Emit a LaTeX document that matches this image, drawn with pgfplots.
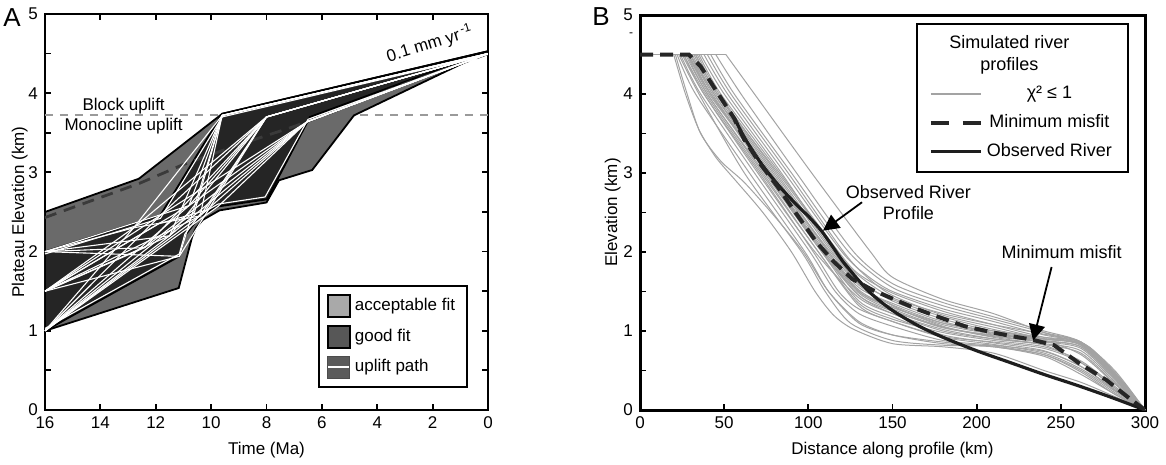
\documentclass[border=0pt]{standalone}
\usepackage{pgfplots}
\pgfplotsset{compat=1.18}
\usepackage{fontspec}
\setmainfont{Liberation Sans}
\usetikzlibrary{arrows.meta}
\definecolor{outerg}{HTML}{6A6A6A}
\definecolor{darkg}{HTML}{252525}
\definecolor{dashg}{HTML}{9A9A9A}
\definecolor{pathdash}{HTML}{3A3A3A}
\definecolor{legacc}{HTML}{A9A9A9}
\definecolor{leggood}{HTML}{575757}
\definecolor{legup}{HTML}{5B5B5B}
\definecolor{simg}{HTML}{A3A3A3}
\definecolor{obsk}{HTML}{1E1E1E}
\definecolor{mink}{HTML}{262626}
\pgfplotsset{
 every axis/.append style={
   scale only axis,
   tick align=inside,
   major tick length=3.2pt,
   every tick/.style={black, line width=0.9pt},
   tick label style={font=\fontsize{8.5}{10}\selectfont},
   label style={font=\fontsize{8.5}{10}\selectfont},
   /pgf/number format/assume math mode=true,
 },
 upath/.style={white, line width=0.55pt, forget plot},
 sim/.style={simg, line width=0.5pt, smooth, tension=0.45, forget plot},
}
\begin{document}
\begin{tikzpicture}[font=\fontsize{8.5}{10}\selectfont]
\useasboundingbox (-22.5pt,-27.5pt) rectangle (560.5pt,205pt);
% ---------------- Panel A ----------------
\begin{axis}[name=pa, at={(0pt,0pt)}, anchor=south west, width=221.5pt, height=198pt,
 x dir=reverse, xmin=0, xmax=16, ymin=0, ymax=5,
 xtick={0,2,...,16}, ytick={0,0.5,...,5}, yticklabels={0,,1,,2,,3,,4,,5},
 tick pos=both,
 axis line style={line width=1.3pt},
 xlabel={Time (Ma)}, ylabel={Plateau Elevation (km)},
 xlabel style={at={(axis description cs:0.5,-0.101)},anchor=center},
 ylabel style={at={(axis description cs:-0.057,0.5)},anchor=center},
 legend style={at={(axis description cs:0.955,0.056)}, anchor=south east, draw=black, line width=1pt,
   font=\fontsize{8.5}{10}\selectfont, row sep=3.5pt, inner xsep=4pt, inner ysep=4pt},
 legend cell align=left,
]
\addplot[dashg, line width=1pt, dash pattern=on 4pt off 3.5pt, forget plot] coordinates {(16,3.72) (0,3.72)};
\addplot[fill=outerg, draw=black, line width=0.9pt, forget plot] coordinates {
 (16,2.5) (12.61,2.92) (9.6,3.74) (0,4.53) (4.84,3.72) (6.35,3.03) (7.55,2.9) (8.0,2.62)
 (9.7,2.52) (10.3,2.4) (10.55,2.3) (10.69,2.18) (11.17,1.54) (16,1.0)} -- cycle;
\addplot[fill=darkg, draw=black, line width=0.9pt, forget plot] coordinates {
 (16,1.0) (11.15,1.94) (10.95,2.2) (10.4,2.45) (9.75,2.57) (7.98,2.66) (6.43,3.70) (0,4.53)
 (9.6,3.74) (11.83,2.46) (16,2.0)} -- cycle;
\addplot[pathdash, line width=1.4pt, dash pattern=on 6pt off 4pt, forget plot] coordinates {
 (16,2.43) (12.6,2.86) (11.0,3.1) (9.0,3.35) (7.0,3.58) (5.5,3.78) (3,4.12) (0,4.5)};
% uplift paths
\addplot[upath] coordinates {(16,1.97) (11.83,2.42) (9.6,3.70) (0,4.49)};
\addplot[upath] coordinates {(16,1.03) (11.15,1.97) (10.95,2.22) (10.4,2.47) (9.75,2.6) (8.05,2.69) (6.5,3.67) (0,4.5)};
\addplot[upath] coordinates {(16,2.0) (11.15,1.94) (8.0,3.70) (0,4.5)};
\addplot[upath] coordinates {(16,2.0) (11.5,2.2) (6.53,3.64) (0,4.5)};
\addplot[upath] coordinates {(16,2.0) (10.8,2.58) (9.6,3.72) (0,4.5)};
\addplot[upath] coordinates {(16,2.0) (12.4,2.05) (8.0,3.70) (0,4.5)};
\addplot[upath] coordinates {(16,1.5) (11.83,2.46) (8.0,3.70) (0,4.5)};
\addplot[upath] coordinates {(16,1.5) (11.15,1.94) (9.6,3.72) (0,4.5)};
\addplot[upath] coordinates {(16,1.5) (11.5,2.2) (8.0,3.70) (0,4.5)};
\addplot[upath] coordinates {(16,1.5) (12.4,2.05) (6.53,3.64) (0,4.5)};
\addplot[upath] coordinates {(16,1.5) (10.8,2.58) (6.53,3.64) (0,4.5)};
\addplot[upath] coordinates {(16,1.5) (10.4,2.45) (9.6,3.72) (0,4.5)};
\addplot[upath] coordinates {(16,1.0) (11.83,2.46) (6.53,3.64) (0,4.5)};
\addplot[upath] coordinates {(16,1.0) (10.4,2.45) (8.0,3.70) (0,4.5)};
\addplot[upath] coordinates {(16,1.0) (11.5,2.2) (9.6,3.72) (0,4.5)};
\addplot[upath] coordinates {(16,1.0) (10.8,2.58) (8.0,3.70) (0,4.5)};
\addplot[upath] coordinates {(16,1.0) (9.75,2.57) (6.53,3.64) (0,4.5)};
\addplot[upath] coordinates {(16,1.0) (12.8,2.3) (8.0,3.70) (0,4.5)};
\addplot[upath] coordinates {(16,1.5) (12.8,2.3) (9.6,3.72) (0,4.5)};
\addplot[upath] coordinates {(16,2.0) (12.8,2.3) (10.4,2.45) (6.53,3.64) (0,4.5)};
\addplot[upath] coordinates {(16,1.0) (12.1,2.1) (10.6,2.5) (9.6,3.72)};
\addplot[upath] coordinates {(16,1.5) (11.9,2.35) (10.2,2.52) (8.0,3.70)};
\node[anchor=center] at (axis cs:13.16,3.84) {Block uplift};
\node[anchor=center] at (axis cs:13.16,3.58) {Monocline uplift};
\node[anchor=center, rotate=17] at (axis cs:2.1,4.62) {0.1 mm yr\textsuperscript{\,-1}};
\addlegendimage{legend image code/.code={\draw[fill=legacc,draw=black,line width=1pt] (0pt,-5.5pt) rectangle (11pt,5.5pt);}}
\addlegendentry{acceptable fit}
\addlegendimage{legend image code/.code={\draw[fill=leggood,draw=black,line width=1pt] (0pt,-5.5pt) rectangle (11pt,5.5pt);}}
\addlegendentry{good fit}
\addlegendimage{legend image code/.code={\draw[fill=legup,draw=gray!60!black,line width=0.6pt] (0pt,-5.5pt) rectangle (11pt,5.5pt); \draw[white,line width=0.8pt] (0.3pt,0pt) -- (10.7pt,0pt);}}
\addlegendentry{uplift path}
\end{axis}
\node[font=\fontsize{13}{13}\selectfont] at ([xshift=-16.5pt,yshift=-2pt]pa.north west) {A};
% ---------------- Panel B ----------------
\begin{axis}[name=pb, at={(297.5pt,0pt)}, anchor=south west, width=252.5pt, height=197.5pt,
 xmin=0, xmax=300, ymin=0, ymax=5,
 xtick={0,50,...,300}, ytick={0,0.5,...,5}, yticklabels={0,,1,,2,,3,,4,,5},
 xtick pos=bottom, ytick pos=left,
 axis line style={line width=1.5pt},
 xlabel={Distance along profile (km)}, ylabel={Elevation (km)},
 xlabel style={at={(axis description cs:0.5,-0.101)},anchor=center},
 ylabel style={at={(axis description cs:-0.054,0.5)},anchor=center},
 legend style={at={(axis description cs:0.968,0.98)}, anchor=north east, draw=black, line width=0.9pt,
   font=\fontsize{9}{10.5}\selectfont, row sep=2.5pt, inner xsep=6pt, inner ysep=4pt,
   /tikz/every even column/.append style={column sep=4pt}},
 legend cell align=center,
]
\addplot[simg, line width=0.5pt, forget plot] coordinates {(0,4.5) (51,4.5)};
\addplot[sim] coordinates {(51,4.5)(68,4.0)(102,3.0)(137,2.0)(150,1.68)(180,1.40)(210,1.22)(240,0.98)(262,0.82)(282,0.42)(300,0)};
\addplot[sim] coordinates {(20,4.5)(27,4.0)(35,3.55)(45,3.2)(57,2.9)(73,2.5)(90,2.0)(104,1.5)(115,1.2)(127,1.02)(150,0.84)(180,0.8)(210,0.72)(240,0.5)(262,0.35)(282,0.17)(300,0)};
\addplot[sim] coordinates {(25,4.5)(38,4.0)(70,3.0)(104,2.0)(130,1.42)(150,1.22)(180,1.02)(210,0.9)(240,0.82)(262,0.6)(282,0.28)(300,0)};
\addplot[sim] coordinates {(28,4.5)(42,4.0)(76,3.0)(110,2.0)(130,1.5)(150,1.3)(180,1.08)(210,0.96)(240,0.88)(262,0.8)(282,0.4)(300,0)};
\addplot[sim] coordinates {(30,4.5)(44,4.0)(78,3.0)(112,2.0)(130,1.55)(150,1.35)(180,1.12)(210,0.98)(240,0.9)(262,0.82)(282,0.42)(300,0)};
\addplot[sim] coordinates {(33,4.5)(46,4.0)(80,3.0)(114,2.0)(130,1.62)(150,1.4)(180,1.18)(210,1.02)(240,0.9)(262,0.84)(282,0.44)(300,0)};
\addplot[sim] coordinates {(27,4.5)(40,4.0)(73,3.0)(106,2.0)(130,1.35)(150,1.15)(180,0.98)(210,0.88)(240,0.8)(262,0.62)(282,0.3)(300,0)};
\addplot[sim] coordinates {(35,4.5)(48,4.0)(83,3.0)(118,2.0)(130,1.72)(150,1.48)(180,1.25)(210,1.08)(240,0.92)(262,0.84)(282,0.45)(300,0)};
\addplot[sim] coordinates {(22,4.5)(33,4.0)(65,3.0)(98,2.0)(112,1.5)(130,1.1)(150,0.95)(180,0.86)(210,0.8)(240,0.7)(262,0.5)(282,0.22)(300,0)};
\addplot[sim] coordinates {(38,4.5)(52,4.0)(86,3.0)(120,2.0)(135,1.7)(150,1.5)(180,1.28)(210,1.12)(240,0.95)(262,0.85)(282,0.46)(300,0)};
\addplot[sim] coordinates {(30,4.5)(43,4.0)(75,3.0)(108,2.0)(130,1.38)(150,1.18)(180,0.95)(210,0.85)(240,0.75)(262,0.55)(282,0.26)(300,0)};
\addplot[sim] coordinates {(42,4.5)(56,4.0)(90,3.0)(124,2.0)(150,1.55)(180,1.32)(210,1.15)(240,0.98)(262,0.86)(282,0.47)(300,0)};
\addplot[sim] coordinates {(26,4.5)(39,4.0)(72,3.0)(106,2.0)(130,1.32)(150,1.12)(180,0.92)(210,0.83)(240,0.72)(262,0.52)(282,0.24)(300,0)};
\addplot[sim] coordinates {(32,4.5)(45,4.0)(79,3.0)(112,2.0)(130,1.5)(150,1.28)(180,1.05)(210,0.93)(240,0.86)(262,0.78)(282,0.38)(300,0)};
\addplot[sim] coordinates {(29,4.5)(41,4.0)(77,3.0)(113,2.0)(130,1.58)(150,1.33)(180,1.1)(210,0.97)(240,0.88)(262,0.7)(282,0.33)(300,0)};
\addplot[sim] coordinates {(36,4.5)(50,4.0)(84,3.0)(116,2.0)(130,1.65)(150,1.38)(180,1.15)(210,1.0)(240,0.9)(262,0.83)(282,0.43)(300,0)};
\addplot[sim] coordinates {(24,4.5)(36,4.0)(68,3.0)(101,2.0)(116,1.5)(130,1.22)(150,1.06)(180,0.88)(210,0.82)(240,0.74)(262,0.55)(282,0.25)(300,0)};
\addplot[sim] coordinates {(45,4.5)(60,4.0)(93,3.0)(127,2.0)(150,1.6)(180,1.36)(210,1.18)(240,1.0)(262,0.86)(282,0.46)(300,0)};
\addplot[sim] coordinates {(31,4.5)(44,4.0)(76,3.0)(109,2.0)(130,1.45)(150,1.22)(180,1.0)(210,0.9)(240,0.84)(262,0.75)(282,0.36)(300,0)};
\addplot[sim] coordinates {(34,4.5)(47,4.0)(81,3.0)(115,2.0)(130,1.6)(150,1.32)(180,1.06)(210,0.92)(240,0.83)(262,0.72)(282,0.34)(300,0)};
\addplot[sim] coordinates {(28,4.5)(40,4.0)(74,3.0)(108,2.0)(130,1.45)(150,1.25)(180,1.05)(210,0.94)(240,0.87)(262,0.8)(282,0.4)(300,0)};
\addplot[sim] coordinates {(23,4.5)(35,4.0)(62,3.0)(96,2.0)(110,1.5)(125,1.1)(150,0.88)(180,0.82)(210,0.8)(240,0.68)(262,0.45)(282,0.2)(300,0)};
\addplot[sim] coordinates {(40,4.5)(54,4.0)(88,3.0)(121,2.0)(135,1.68)(150,1.45)(180,1.2)(210,1.05)(240,0.9)(262,0.84)(282,0.44)(300,0)};
\addplot[sim] coordinates {(30,4.5)(42,4.0)(77,3.0)(111,2.0)(130,1.52)(150,1.3)(180,1.1)(210,1.0)(240,0.92)(262,0.86)(282,0.5)(300,0)};
\addplot[sim] coordinates {(33,4.5)(46,4.0)(82,3.0)(117,2.0)(130,1.7)(150,1.42)(180,1.22)(210,1.08)(240,0.96)(262,0.86)(282,0.48)(300,0)};
\addplot[sim] coordinates {(26,4.5)(38,4.0)(71,3.0)(103,2.0)(118,1.5)(130,1.28)(150,1.12)(180,0.93)(210,0.86)(240,0.78)(262,0.6)(282,0.28)(300,0)};
\addplot[sim] coordinates {(21,4.5)(28,4.0)(36,3.5)(48,3.15)(62,2.88)(80,2.45)(97,2.0)(112,1.5)(130,1.12)(150,0.95)(180,0.84)(210,0.81)(240,0.7)(262,0.48)(282,0.2)(300,0)};
\addplot[sim] coordinates {(29,4.5)(42,4.0)(75,3.0)(109,2.0)(130,1.48)(150,1.26)(180,1.04)(210,0.95)(240,0.9)(262,0.85)(272,0.7)(286,0.3)(300,0)};
% observed river
\addplot[obsk, line width=1.6pt, smooth, tension=0.5, forget plot] coordinates {
 (56,3.7)(62,3.45)(72,3.12)(82,2.85)(92,2.62)(101,2.43)(108,2.26)(115,2.05)(122,1.84)(136,1.5)(150,1.26)
 (165,1.07)(180,0.92)(200,0.75)(220,0.6)(240,0.45)(260,0.31)(280,0.16)(300,0)};
% minimum misfit
\addplot[mink, line width=2pt, dash pattern=on 6.5pt off 3.5pt, forget plot] coordinates {
 (0,4.5)(29,4.5)(36,4.35)(45,4.05)(55.7,3.7)(62,3.42)(72,3.1)(82,2.82)(93,2.48)(105,2.12)(115,1.88)
 (126,1.66)(138,1.52)(150,1.41)(163,1.29)(177,1.18)(193,1.06)(210,0.98)(222,0.93)(233,0.89)(246,0.82)
 (261,0.59)(277,0.38)(290,0.16)(300,0)};
\node[align=center, anchor=center, font=\fontsize{9}{10.5}\selectfont] at (axis cs:159.5,2.62) {Observed River\\Profile};
\draw[-{Triangle[length=8pt,width=8pt]}, line width=0.9pt] (axis cs:131.9,2.63) -- (axis cs:108.7,2.27);
\node[anchor=center, font=\fontsize{9}{10.5}\selectfont] at (axis cs:250.5,2.0) {Minimum misfit};
\draw[-{Triangle[length=8pt,width=8pt]}, line width=0.9pt] (axis cs:244.5,1.81) -- (axis cs:233.5,0.88);
\addlegendimage{empty legend}
\addlegendentry{\hspace*{-40pt}\shortstack{Simulated river\\[1pt]profiles}}
\addlegendimage{legend image code/.code={\draw[simg,line width=0.8pt] (0pt,0pt) -- (25pt,0pt);}}
\addlegendentry{χ² ≤ 1}
\addlegendimage{legend image code/.code={\draw[mink,line width=2pt,dash pattern=on 9pt off 7pt] (0pt,0pt) -- (25pt,0pt);}}
\addlegendentry{Minimum misfit}
\addlegendimage{legend image code/.code={\draw[obsk,line width=1.8pt] (0pt,0pt) -- (25pt,0pt);}}
\addlegendentry{Observed River}
\end{axis}
\node[font=\fontsize{13}{13}\selectfont] at ([xshift=-19.5pt,yshift=-1pt]pb.north west) {B};
\node[font=\fontsize{6}{6}\selectfont] at ([xshift=-4.5pt,yshift=-10pt]pb.north west) {-};
\end{tikzpicture}
\end{document}
